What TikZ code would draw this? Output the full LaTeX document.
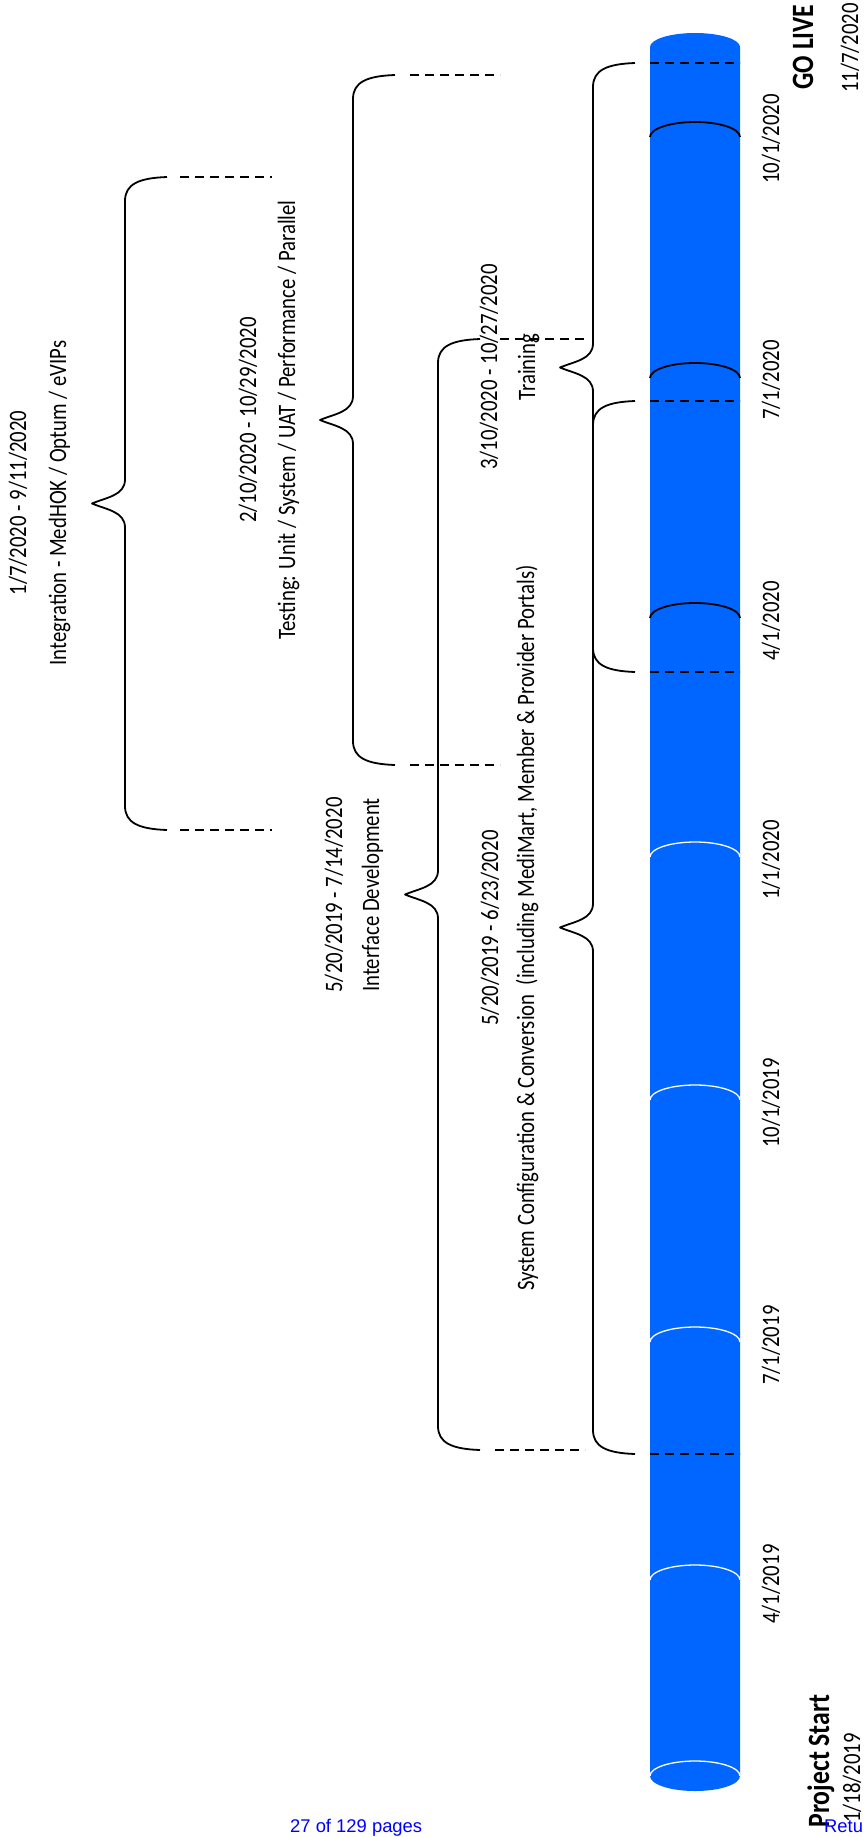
\documentclass[tikz,border=0pt]{standalone}
\usepackage{fontspec}
\setmainfont{Carlito}[FakeStretch=0.83]
\newfontfamily\pagefont{Liberation Sans}
\definecolor{cylblue}{RGB}{0,102,255}
\definecolor{linkblue}{RGB}{0,0,255}
\tikzset{
  bracestyle/.style={line width=1.8pt, black, line join=round},
  dashstyle/.style={line width=1.8pt, black, dash pattern=on 9pt off 6pt},
  lbl/.style={rotate=90, anchor=base, inner sep=0pt, font=\fontsize{25}{30}\selectfont},
  boldlbl/.style={rotate=90, anchor=base, inner sep=0pt, font=\fontsize{31}{36}\selectfont\bfseries},
  pagelbl/.style={anchor=base west, inner sep=0pt, text=linkblue, font=\pagefont\fontsize{18.4}{22}\selectfont},
  blackarc/.style={line width=1.8pt, black},
  whitearc/.style={line width=1.3pt, white},
}
% brace: #1 = x of vertical, #2 = top y, #3 = bottom y, #4 = x of tip
\newcommand\tlbrace[4]{%
  \draw[bracestyle] ({#1+42},#2) .. controls ({#1+14},{#2+1}) and (#1,{#2+7}) .. (#1,{#2+24})
    -- (#1,{(#2+#3)/2-24}) .. controls (#1,{(#2+#3)/2-8}) and ({#4+14},{(#2+#3)/2-6}) .. (#4,{(#2+#3)/2})
    .. controls ({#4+14},{(#2+#3)/2+6}) and (#1,{(#2+#3)/2+8}) .. (#1,{(#2+#3)/2+24})
    -- (#1,{#3-24}) .. controls (#1,{#3-7}) and ({#1+14},{#3-1}) .. ({#1+42},#3);}
% cylinder segment arc: #1 = style, #2 = y of the sides
\newcommand\tlarc[2]{%
  \draw[#1] (650,#2) .. controls (650,{#2-8.3}) and (670.1,{#2-15}) .. (695,{#2-15})
    .. controls (719.9,{#2-15}) and (740,{#2-8.3}) .. (740,#2);}
\begin{document}
\begin{tikzpicture}[x=1pt,y=-1pt]
\useasboundingbox (0,0) rectangle (865,1837);
\clip (0,0) rectangle (865,1837);

% cylinder (time line)
\fill[cylblue] (650,1776) -- (650,47) .. controls (650,39.3) and (670.1,33) .. (695,33)
  .. controls (719.9,33) and (740,39.3) .. (740,47) -- (740,1776)
  .. controls (740,1784.3) and (719.9,1791) .. (695,1791)
  .. controls (670.1,1791) and (650,1784.3) .. (650,1776) -- cycle;
\foreach \yy in {857,1100,1342,1580,1776} {\tlarc{whitearc}{\yy}}
\foreach \yy in {137,378,618} {\tlarc{blackarc}{\yy}}

% dashed marks across the cylinder
\draw[dashstyle] (650,63) -- (740,63);
\draw[dashstyle] (650,401) -- (740,401);
\draw[dashstyle] (650,672) -- (740,672);
\draw[dashstyle] (650,1454) -- (740,1454);

% short dashed extensions
\draw[dashstyle] (180,177) -- (272,177);
\draw[dashstyle] (180,830) -- (272,830);
\draw[dashstyle] (410,75) -- (500,75);
\draw[dashstyle] (410,765) -- (500,765);
\draw[dashstyle] (500,339) -- (587,339);
\draw[dashstyle] (495,1450) -- (585,1450);

% braces
\tlbrace{125}{177}{830}{92}
\tlbrace{353}{75}{765}{320}
\tlbrace{438}{339}{1450}{405}
\tlbrace{593}{401}{1454}{560}
\tlbrace{593}{63}{672}{560}

% phase labels
\node[lbl] (intdate) at (26,503) {1/7/2020 - 9/11/2020};
\node[lbl] (intname) at (66,503) {Integration - MedHOK / Optum / eVIPs};
\node[lbl] (testdate) at (256,420) {2/10/2020 - 10/29/2020};
\node[lbl] (testname) at (295,420) {Testing: Unit / System / UAT / Performance / Parallel};
\node[lbl] (ifdate) at (342,895) {5/20/2019 - 7/14/2020};
\node[lbl] (ifname) at (379,895) {Interface Development};
\node[lbl] (trdate) at (497,367) {3/10/2020 - 10/27/2020};
\node[lbl] (trname) at (535,367) {Training};
\node[lbl] (scdate) at (498,928) {5/20/2019 - 6/23/2020};
\node[lbl] (scname) at (534,928) {System Configuration \& Conversion~ (including MediMart, Member \& Provider Portals)};

% quarter labels
\node[lbl] (q1) at (779,1584) {4/1/2019};
\node[lbl] (q2) at (779,1345) {7/1/2019};
\node[lbl] (q3) at (779,1103) {10/1/2019};
\node[lbl] (q4) at (779,860) {1/1/2020};
\node[lbl] (q5) at (779,621) {4/1/2020};
\node[lbl] (q6) at (779,380) {7/1/2020};
\node[lbl] (q7) at (779,139) {10/1/2020};

% milestones
\node[boldlbl] (golive) at (813,47) {GO LIVE};
\node[lbl] (golivedate) at (858,48) {11/7/2020};
\node[boldlbl] (pstart) at (829,1761) {Project Start};
\node[lbl] (pstartdate) at (860,1778) {1/18/2019};

% page footer texts
\node[pagelbl] (pages) at (290,1832) {27 of 129 pages};
\node[pagelbl] (ret) at (824,1832) {Retu};
\end{tikzpicture}
\end{document}
